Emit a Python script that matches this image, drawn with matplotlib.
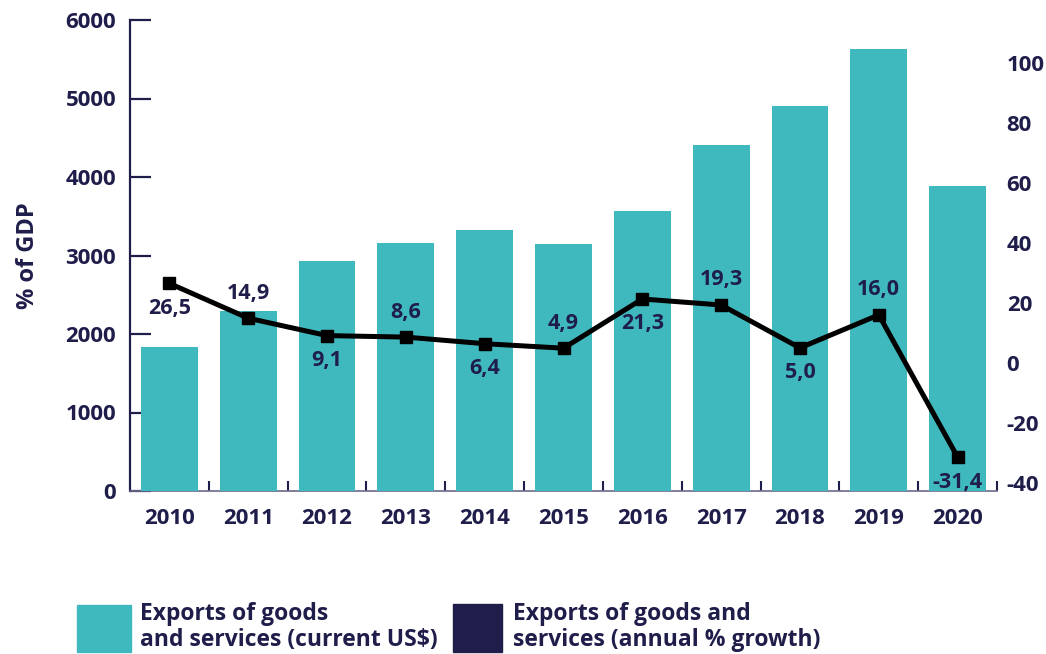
import numpy as np
import matplotlib.pyplot as plt
from matplotlib.patches import Rectangle

# colours
teal = '#3fb9be'
navy = '#1f1d4a'

# data
years = ['2010', '2011', '2012', '2013', '2014', '2015',
         '2016', '2017', '2018', '2019', '2020']
exports_usd = [1835, 2295, 2930, 3160, 3325, 3145, 3565, 4410, 4905, 5630, 3885]
growth = [26.5, 14.9, 9.1, 8.6, 6.4, 4.9, 21.3, 19.3, 5.0, 16.0, -31.4]
growth_labels = ['26,5', '14,9', '9,1', '8,6', '6,4', '4,9',
                 '21,3', '19,3', '5,0', '16,0', '-31,4']

plt.rcParams['font.family'] = ['Open Sans', 'DejaVu Sans']
plt.rcParams['font.weight'] = 'bold'
plt.rcParams['axes.unicode_minus'] = False

fig = plt.figure(figsize=(10.46, 6.54), dpi=100)
ax = fig.add_axes([130/1046, 1-491/654, 867/1046, 471/654])
x = np.arange(len(years))

# bars: exports in current US$
ax.bar(x, exports_usd, width=0.72, color=teal, zorder=3)
ax.set_xlim(-0.5, 10.5)
ax.set_ylim(0, 6000)
ax.set_yticks(np.arange(0, 6001, 1000))
ax.set_xticks(x)
ax.set_xticklabels(years)
ax.set_xticks(x + 0.5, minor=True)
ax.tick_params(axis='x', which='major', length=0, pad=12,
               labelsize=16, labelcolor=navy)
ax.tick_params(axis='x', which='minor', direction='in', length=7,
               width=1.5, color=navy)
ax.tick_params(axis='y', direction='in', length=15, width=1.6,
               color=navy, labelsize=16, labelcolor=navy, pad=10)
for lbl in ax.get_xticklabels() + ax.get_yticklabels():
    lbl.set_fontweight('bold')
ax.spines['top'].set_visible(False)
ax.spines['right'].set_visible(False)
ax.spines['left'].set_color(navy)
ax.spines['left'].set_linewidth(1.6)
ax.spines['bottom'].set_color('#6b6a8a')
ax.spines['bottom'].set_linewidth(1.2)
ax.set_ylabel('% of GDP', fontsize=17, fontweight='bold', color=navy,
              labelpad=18)

# line: annual % growth on the right axis
ax2 = ax.twinx()
ax2.plot(x, growth, color='black', lw=3.6, marker='s', markersize=9,
         zorder=4)
ax2.set_ylim(-42.7, 114.3)
ax2.set_yticks(np.arange(-40, 101, 20))
ax2.tick_params(axis='y', length=0, pad=7, labelsize=16, labelcolor=navy)
for lbl in ax2.get_yticklabels():
    lbl.set_fontweight('bold')
for s in ax2.spines.values():
    s.set_visible(False)

# value labels alternate below / above the markers
for i, (v, t) in enumerate(zip(growth, growth_labels)):
    dy = -18 if i % 2 == 0 else 18
    ax2.annotate(t, (x[i], v), xytext=(0, dy), textcoords='offset points',
                 ha='center', va='center', fontsize=15.5, fontweight='bold',
                 color=navy)

# legend
fig.add_artist(Rectangle((77/1046, 1-652/654), 54/1046, 47/654,
                         transform=fig.transFigure, color=teal))
fig.add_artist(Rectangle((453/1046, 1-652/654), 49/1046, 48/654,
                         transform=fig.transFigure, color=navy))
fig.text(140/1046, 1-627/654, 'Exports of goods\nand services (current US$)',
         fontsize=16.5, fontweight='bold', color=navy, va='center',
         linespacing=1.15)
fig.text(513/1046, 1-627/654, 'Exports of goods and\nservices (annual % growth)',
         fontsize=16.5, fontweight='bold', color=navy, va='center',
         linespacing=1.15)

fig.savefig('out.png', dpi=100)
